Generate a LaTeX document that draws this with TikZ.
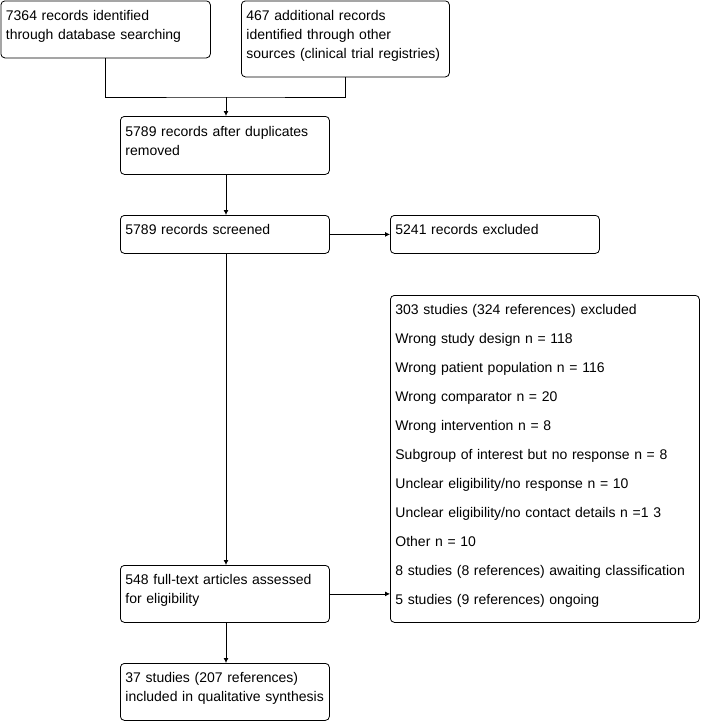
\documentclass[tikz,border=0pt]{standalone}
\usepackage{fontspec}
\setmainfont{Liberation Sans}
\usetikzlibrary{arrows.meta,positioning,calc}
\definecolor{boxline}{RGB}{0,0,0}
\tikzset{
  flowbox/.style={draw=boxline, rounded corners=4pt, line width=0.8pt, anchor=north west,
                  align=left, inner xsep=5pt, inner ysep=0pt, font=\fontsize{14}{19}\selectfont,
                  execute at end node={\rule[-9pt]{0pt}{9pt}}},
  flowarr/.style={-{Latex[length=5pt,width=5pt]}, boxline, line width=0.8pt},
  flowline/.style={boxline, line width=0.8pt},
}
\begin{document}
\begin{tikzpicture}[x=1pt,y=-1pt]
  \useasboundingbox (0,0) rectangle (701,721);
  \node[flowbox, text width=199.5pt, minimum height=57pt] (dbrec) at (0.5,0.5)
    {7364 records identified\\through database searching};
  \node[flowbox, text width=198pt, minimum height=76pt] (otherrec) at (241,0.5)
    {467 additional records\\identified through other\\sources (clinical trial registries)};
  \node[flowbox, text width=199pt, minimum height=58pt] (dedup) at (120,116)
    {5789 records after duplicates\\removed};
  \node[flowbox, text width=199pt, minimum height=38pt] (screen) at (120,215)
    {5789 records screened};
  \node[flowbox, text width=199pt, minimum height=38pt] (scrout) at (390,215)
    {5241 records excluded};
  \node[flowbox, text width=199pt, minimum height=57pt] (fulltext) at (120,565)
    {548 full-text articles assessed\\for eligibility};
  \node[flowbox, text width=299pt, minimum height=327pt, font=\fontsize{14}{29}\selectfont] (ftout) at (390,295)
    {303 studies (324 references) excluded\\
     Wrong study design n = 118\\
     Wrong patient population n = 116\\
     Wrong comparator n = 20\\
     Wrong intervention n = 8\\
     Subgroup of interest but no response n = 8\\
     Unclear eligibility/no response n = 10\\
     Unclear eligibility/no contact details n =1 3\\
     Other n = 10\\
     8 studies (8 references) awaiting classification\\
     5 studies (9 references) ongoing};
  \node[flowbox, text width=199pt, minimum height=57pt] (included) at (120,663)
    {37 studies (207 references)\\included in qualitative synthesis};
  \coordinate (merge) at (226,97);
  \draw[flowline] (dbrec.south) |- (merge) -| (otherrec.south);
  \draw[flowarr] (merge) -- (merge |- dedup.north);
  \draw[flowarr] (merge |- dedup.south) -- (merge |- screen.north);
  \draw[flowarr] (screen.east) -- (scrout.west);
  \draw[flowarr] (merge |- screen.south) -- (merge |- fulltext.north);
  \draw[flowarr] (fulltext.east) -- (fulltext.east -| ftout.west);
  \draw[flowarr] (merge |- fulltext.south) -- (merge |- included.north);
\end{tikzpicture}
\end{document}
